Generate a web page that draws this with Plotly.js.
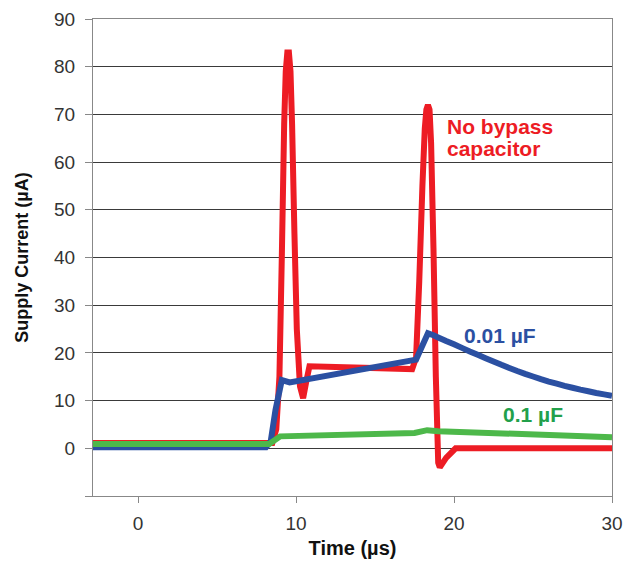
<!DOCTYPE html>
<html>
<head>
<meta charset="utf-8">
<script src="https://cdn.plot.ly/plotly-3.0.1.min.js"></script>
<style>html,body{margin:0;padding:0;background:#fff;}#chart{width:624px;height:564px;}</style>
</head>
<body>
<div id="chart"></div>
<script>
// Time (µs) and supply current (µA)
const noBypassX = [-2.85, 8.5, 8.75, 8.95, 9.1, 9.25, 9.35, 9.45, 9.55, 9.65, 9.75, 9.9, 10.05, 10.25, 10.45, 10.65, 10.85, 17.35, 17.6, 17.8, 18.0, 18.15, 18.25, 18.35, 18.45, 18.55, 18.7, 18.85, 19.0, 19.1, 19.5, 20.1, 30];
const noBypassY = [1.1, 1.1, 4, 15, 40, 68, 79, 83, 83, 79, 68, 45, 25, 13, 10.5, 14, 17.2, 16.6, 19, 35, 55, 67, 71, 72, 71, 64, 42, 15, -3, -4, -2, 0, 0];

const cap001X = [-2.85, 8.1, 8.4, 8.7, 9.1, 9.6, 17.6, 18.35, 18.7, 19.0, 19.5, 20.0, 20.5, 21.0, 21.5, 22.0, 22.5, 23.0, 23.5, 24.0, 24.5, 25.0, 25.5, 26.0, 26.5, 27.0, 27.5, 28.0, 28.5, 29.0, 29.5, 30];
const cap001Y = [0.2, 0.2, 1.5, 8, 14.3, 13.8, 18.6, 24.1, 23.7, 23.25, 22.5, 21.8, 21.05, 20.3, 19.6, 18.9, 18.2, 17.5, 16.85, 16.2, 15.6, 15.05, 14.5, 14.0, 13.55, 13.1, 12.7, 12.3, 11.95, 11.6, 11.3, 11.0];

const cap01X = [-2.85, 8.3, 9.0, 17.5, 18.3, 19.0, 30];
const cap01Y = [0.9, 0.9, 2.5, 3.2, 3.8, 3.6, 2.3];

const xTicks = [0, 10, 20, 30];
const yTicks = [-10, 0, 10, 20, 30, 40, 50, 60, 70, 80, 90];
const yTickText = ['', '0', '10', '20', '30', '40', '50', '60', '70', '80', '90'];

const RED = '#ED1C24', BLUE = '#2B50A2', GREEN = '#4DB84A';
const FONT = 'Arial, "Liberation Sans", sans-serif';

const traces = [
  {x: noBypassX, y: noBypassY, mode: 'lines', line: {color: RED, width: 6, simplify: false}, hoverinfo: 'skip'},
  {x: cap001X, y: cap001Y, mode: 'lines', line: {color: BLUE, width: 6, simplify: false}, hoverinfo: 'skip'},
  {x: cap01X, y: cap01Y, mode: 'lines', line: {color: GREEN, width: 6, simplify: false}, hoverinfo: 'skip'}
];

const layout = {
  width: 624, height: 564,
  margin: {l: 93, r: 12, t: 19, b: 68},
  paper_bgcolor: '#fff', plot_bgcolor: '#fff',
  showlegend: false,
  font: {family: FONT, size: 19, color: '#333'},
  xaxis: {
    range: [-2.85, 30], tickvals: xTicks, ticktext: xTicks.map(String),
    showgrid: false, zeroline: false,
    showline: true, linecolor: '#888', linewidth: 1, mirror: true,
    ticks: 'outside', ticklen: 6, tickcolor: '#888', ticklabelstandoff: 4,
    tickfont: {family: FONT, size: 19, color: '#333'},
    title: {text: 'Time (µs)', font: {family: FONT, size: 20, color: '#111', weight: 'bold'}, standoff: 8}
  },
  yaxis: {
    range: [-10, 90], tickvals: yTicks, ticktext: yTickText,
    showgrid: true, gridcolor: '#3a3a3a', gridwidth: 1, zeroline: false,
    showline: true, linecolor: '#888', linewidth: 1, mirror: true,
    ticks: 'outside', ticklen: 7, tickcolor: '#888', ticklabelstandoff: 6,
    tickfont: {family: FONT, size: 19, color: '#333'},
    title: {text: 'Supply Current (µA)', font: {family: FONT, size: 18, color: '#111', weight: 'bold'}, standoff: 20}
  },
  annotations: [
    {x: 19.45, y: 67.4, xref: 'x', yref: 'y', text: 'No bypass', showarrow: false, xanchor: 'left', yanchor: 'middle',
     font: {family: FONT, size: 21, color: RED, weight: 'bold'}},
    {x: 19.45, y: 62.8, xref: 'x', yref: 'y', text: 'capacitor', showarrow: false, xanchor: 'left', yanchor: 'middle',
     font: {family: FONT, size: 21, color: RED, weight: 'bold'}},
    {x: 20.5, y: 23.6, xref: 'x', yref: 'y', text: '0.01 µF', showarrow: false, xanchor: 'left', yanchor: 'middle',
     font: {family: FONT, size: 21, color: BLUE, weight: 'bold'}},
    {x: 22.95, y: 7.0, xref: 'x', yref: 'y', text: '0.1 µF', showarrow: false, xanchor: 'left', yanchor: 'middle',
     font: {family: FONT, size: 21, color: '#22A04B', weight: 'bold'}}
  ]
};

Plotly.newPlot('chart', traces, layout, {staticPlot: true, displayModeBar: false});
</script>
</body>
</html>
